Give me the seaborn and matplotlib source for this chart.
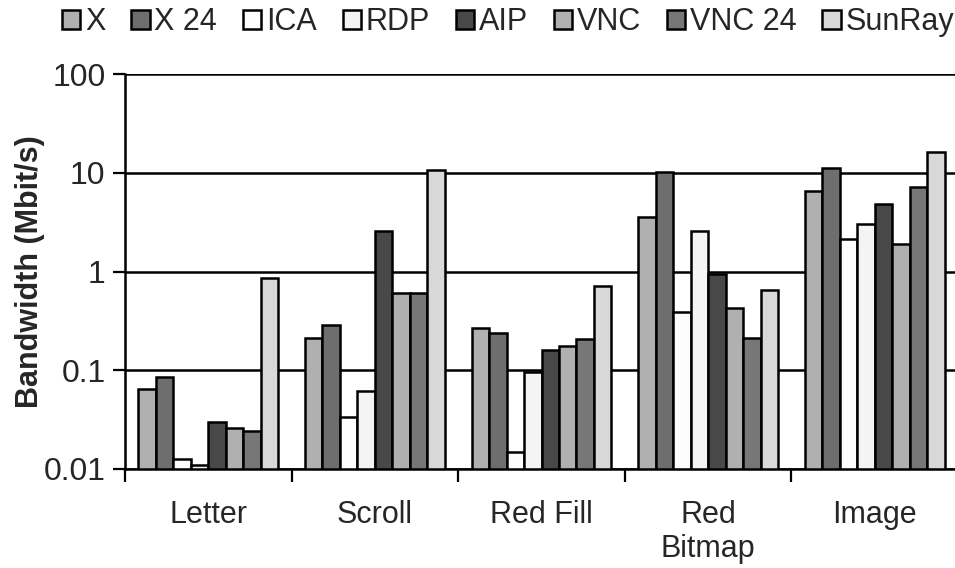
import matplotlib
matplotlib.use("Agg")
import matplotlib.pyplot as plt
import seaborn as sns
import pandas as pd
import numpy as np

tests = ["Letter", "Scroll", "Red Fill", "Red\nBitmap", "Image"]
platforms = ["X", "X 24", "ICA", "RDP", "AIP", "VNC", "VNC 24", "SunRay"]
colors = ["#b0b0b0", "#6e6e6e", "#fdfdfd", "#f4f4f4", "#484848", "#b0b0b0", "#777777", "#d8d8d8"]

x_vals      = [0.064, 0.21, 0.27, 3.6, 6.6]
x24_vals    = [0.085, 0.29, 0.24, 10.2, 11.2]
ica_vals    = [0.0126, 0.034, 0.015, 0.39, 2.15]
rdp_vals    = [0.011, 0.061, 0.095, 2.6, 3.0]
aip_vals    = [0.030, 2.6, 0.16, 0.95, 4.8]
vnc_vals    = [0.026, 0.60, 0.178, 0.43, 1.9]
vnc24_vals  = [0.024, 0.60, 0.205, 0.21, 7.2]
sunray_vals = [0.85, 10.7, 0.71, 0.65, 16.2]

series = [x_vals, x24_vals, ica_vals, rdp_vals, aip_vals, vnc_vals, vnc24_vals, sunray_vals]
rows = []
for p, vals in zip(platforms, series):
    for t, v in zip(tests, vals):
        rows.append({"test": t, "platform": p, "bw": v})
df = pd.DataFrame(rows)

sns.set_style("white")
plt.rcParams["font.family"] = ["Liberation Sans", "DejaVu Sans"]

fig = plt.figure(figsize=(9.55, 5.68), dpi=100)
ax = fig.add_axes([125/955, 99/568, 833/955, 395/568])
ax.set_yscale("log")
sns.barplot(data=df, x="test", y="bw", hue="platform", order=tests, hue_order=platforms,
            palette=colors, edgecolor="black", linewidth=1.8, width=0.84, ax=ax,
            errorbar=None, saturation=1, legend=True)
ax.set_ylim(0.01, 100)
ax.set_xlim(-0.5, 4.5)

ax.set_yticks([0.01, 0.1, 1, 10, 100])
ax.set_yticklabels(["0.01", "0.1", "1", "10", "100"], fontsize=23)
ax.yaxis.set_minor_locator(matplotlib.ticker.NullLocator())
ax.tick_params(axis="y", which="major", direction="out", length=9, width=1.6, color="black", left=True, pad=5)

ax.set_xticks(np.arange(-0.5, 5.0, 1.0))
ax.set_xticklabels([""] * 6)
ax.set_xticks(np.arange(0, 5), minor=True)
ax.set_xticklabels(tests, minor=True, fontsize=22, linespacing=1.2, va="top")
ax.tick_params(axis="x", which="minor", length=0, pad=22)
ax.tick_params(axis="x", which="major", direction="out", length=9, width=1.6, color="black", bottom=True)

ax.grid(axis="y", which="major", color="black", linewidth=1.8)
ax.set_axisbelow(True)
for s in ["top", "right"]:
    ax.spines[s].set_visible(False)
for s in ["left", "bottom"]:
    ax.spines[s].set_color("black")
    ax.spines[s].set_linewidth(1.8)

ax.set_xlabel("")
ax.set_ylabel("Bandwidth (Mbit/s)", fontsize=22, fontweight="bold", labelpad=-1)

handles, labels = ax.get_legend_handles_labels()
ax.get_legend().remove()
leg = fig.legend(handles, labels, loc="upper center", bbox_to_anchor=(0.532, 1.02), ncol=8,
                 frameon=False, handlelength=0.6, handleheight=0.6,
                 handletextpad=0.15, columnspacing=0.85, borderaxespad=0.2,
                 prop={"family": ["Liberation Sans Narrow", "Liberation Sans", "DejaVu Sans"], "size": 22})

fig.savefig("out.png", dpi=100)
